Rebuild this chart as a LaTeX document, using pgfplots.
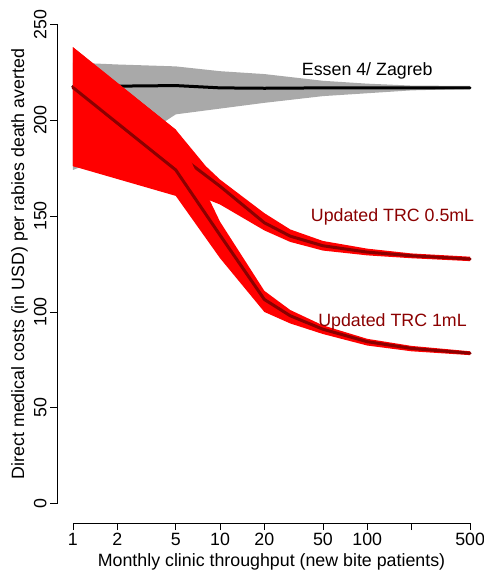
\documentclass[border=0pt]{standalone}
\usepackage{pgfplots}
\pgfplotsset{compat=1.18}
\usepackage{fontspec}
\setmainfont{Liberation Sans}
\definecolor{bandgray}{HTML}{A9A9A9}
\definecolor{dred}{HTML}{8B0000}
\newcommand{\bigf}{\fontsize{17.8}{20}\selectfont}
\begin{document}
\begin{tikzpicture}
\begin{axis}[
  scale only axis, width=429pt, height=518pt,
  xmode=log, xmin=0.7798, xmax=641.2, ymin=-10, ymax=260,
  clip=false,
  axis line style={draw=none},
  tick align=outside, major tick length=7pt,
  tick style={black, line width=0.8pt},
  xtick pos=bottom, ytick pos=left,
  xminorticks=false, yminorticks=false,
  xtick={1,2,5,10,20,50,100,200,500},
  xticklabels={1,2,5,10,20,50,100,,500},
  ytick={0,50,100,150,200,250},
  yticklabels={0,50,100,150,200,250},
  tick label style={font=\bigf},
  label style={font=\bigf},
  yticklabel style={rotate=90, anchor=south},
  xlabel={Monthly clinic throughput (new bite patients)},
  ylabel={Direct medical costs (in USD) per rabies death averted},
  xlabel style={at={(axis description cs:0.5,0)}, anchor=center, yshift=-39pt},
  ylabel style={at={([xshift=-37.5pt]axis description cs:0,0.5)}, anchor=center},
]
% Essen 4 / Zagreb band
\addplot[fill=bandgray, draw=none] coordinates {
 (1,230) (2,229) (5,228) (10,225.5) (20,224) (50,220.5) (100,219) (200,218) (500,217.8)
 (500,216.3) (200,215.5) (100,214) (50,212.5) (20,209) (10,206) (5,203) (2,183) (1,174)};
\addplot[black, line width=3pt, line cap=round, line join=round] coordinates {
 (1,217.5) (2,217.7) (5,218) (10,216.8) (20,216.6) (50,216.8) (100,216.8) (200,216.8) (500,216.8)};
% Updated TRC 0.5mL band
\addplot[fill=red, draw=none] coordinates {
 (1,238) (5,195) (8,176) (10,169) (20,151.5) (30,143) (50,137) (100,133) (200,130.5) (500,128.8)
 (500,126.5) (200,128) (100,129.5) (50,132) (30,136.5) (20,142.5) (10,156) (8,159) (5,172) (1,176)};
\addplot[dred, line width=3pt, line cap=round, line join=round] coordinates {
 (1,217) (5,183) (10,165.5) (20,146.5) (30,139.5) (50,134.5) (100,131.2) (200,129.3) (500,127.6)};
% Updated TRC 1mL band
\addplot[fill=red, draw=none] coordinates {
 (1,238) (5,195) (10,147) (20,111) (30,101) (50,93) (100,86) (200,82.3) (500,79.5)
 (500,77.5) (200,79.5) (100,82.5) (50,88.5) (30,94) (20,100) (10,128) (5,160.5) (1,176)};
\addplot[dred, line width=3pt, line cap=round, line join=round] coordinates {
 (1,217) (5,174) (10,140) (20,106.5) (30,98) (50,91) (100,84.5) (200,81) (500,78.5)};
% anchor points for the R-style axis lines
\coordinate (xa) at (axis cs:1,-10);
\coordinate (xb) at (axis cs:500,-10);
\coordinate (ya) at (axis cs:0.7798,0);
\coordinate (yb) at (axis cs:0.7798,250);
% labels
\node[anchor=base, text=black, font=\bigf] at (axis cs:100,223) {Essen 4/ Zagreb};
\node[anchor=base, text=dred, font=\bigf] at (axis cs:148.6,147) {Updated TRC 0.5mL};
\node[anchor=base, text=dred, font=\bigf] at (axis cs:148.6,92.3) {Updated TRC 1mL};
\end{axis}
\draw[line width=0.9pt, black] (xa) -- (xb);
\draw[line width=0.9pt, black] (ya) -- (yb);
\pgfresetboundingbox
\path[use as bounding box] ([shift={(-57pt,-50pt)}]current axis.south west) rectangle ([shift={(-2pt,5pt)}]current axis.north east);
\end{tikzpicture}
\end{document}
